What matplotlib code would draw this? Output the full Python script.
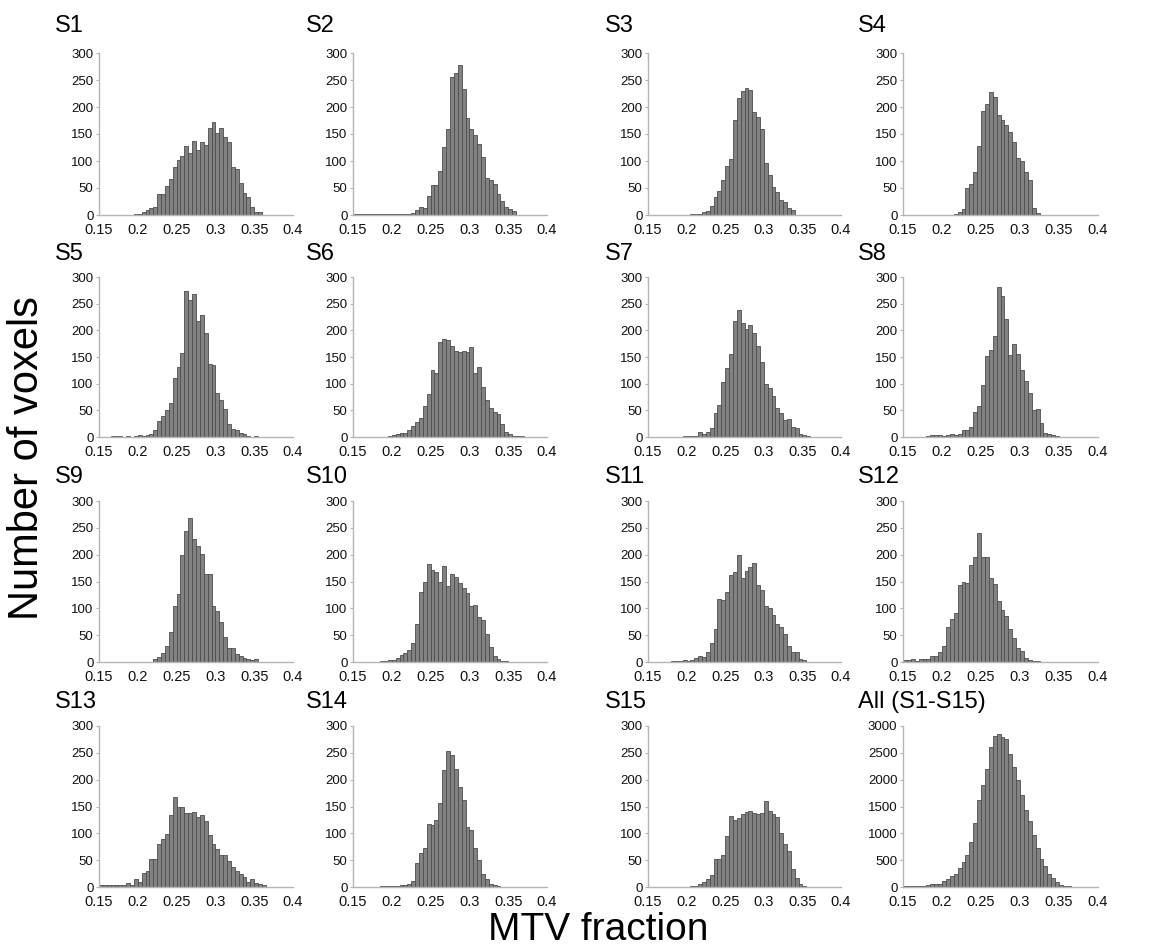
import numpy as np
import matplotlib
matplotlib.use("Agg")
from matplotlib import pyplot as plt

plt.rcParams['font.family'] = ['Liberation Sans', 'DejaVu Sans']

# bin left edges: 0.15 ... 0.395, width 0.005
bin_w = 0.005
edges = 0.15 + bin_w * np.arange(50)


def hist(d):
    # d: {bin index: count}
    c = np.zeros(50)
    for k, v in d.items():
        c[k] = v
    return c


# counts per subject
s1 = hist({9: 1, 10: 2, 11: 5, 12: 10, 13: 13, 14: 15, 15: 38, 16: 38, 17: 53, 18: 67,
           19: 88, 20: 101, 21: 110, 22: 127, 23: 115, 24: 137, 25: 120, 26: 135, 27: 129,
           28: 162, 29: 172, 30: 152, 31: 162, 32: 144, 33: 135, 34: 88, 35: 85, 36: 59,
           37: 40, 38: 33, 39: 15, 40: 6, 41: 5})
s2 = hist({0: 2, 1: 2, 2: 2, 3: 2, 4: 2, 5: 1, 6: 1, 7: 1, 8: 1, 9: 1, 10: 1, 11: 1, 12: 1,
           13: 2, 14: 1, 15: 3, 16: 10, 17: 15, 18: 13, 19: 35, 20: 55, 21: 56, 22: 82,
           23: 125, 24: 160, 25: 256, 26: 263, 27: 277, 28: 234, 29: 180, 30: 160, 31: 148,
           32: 131, 33: 107, 34: 68, 35: 65, 36: 58, 37: 38, 38: 25, 39: 15, 40: 12, 41: 7})
s3 = hist({11: 1, 12: 1, 13: 2, 14: 5, 15: 8, 16: 16, 17: 34, 18: 44, 19: 65, 20: 90,
           21: 103, 22: 175, 23: 216, 24: 230, 25: 236, 26: 231, 27: 190, 28: 182, 29: 160,
           30: 97, 31: 74, 32: 52, 33: 43, 34: 27, 35: 24, 36: 13, 37: 9})
s4 = hist({13: 2, 14: 5, 15: 12, 16: 50, 17: 57, 18: 80, 19: 128, 20: 193, 21: 205,
           22: 227, 23: 218, 24: 186, 25: 176, 26: 166, 27: 153, 28: 135, 29: 106, 30: 100,
           31: 79, 32: 64, 33: 13, 34: 3})
s5 = hist({3: 2, 4: 2, 5: 1, 7: 1, 9: 1, 10: 3, 11: 2, 12: 3, 13: 6, 14: 14, 15: 30,
           16: 40, 17: 50, 18: 63, 19: 110, 20: 131, 21: 158, 22: 273, 23: 256, 24: 268,
           25: 218, 26: 228, 27: 195, 28: 137, 29: 135, 30: 83, 31: 70, 32: 52, 33: 25,
           34: 15, 35: 13, 36: 7, 37: 5, 38: 2, 40: 2})
s6 = hist({9: 2, 10: 3, 11: 5, 12: 8, 13: 7, 14: 14, 15: 20, 16: 28, 17: 36, 18: 59,
           19: 80, 20: 125, 21: 120, 22: 178, 23: 184, 24: 182, 25: 170, 26: 161, 27: 160,
           28: 161, 29: 160, 30: 168, 31: 120, 32: 131, 33: 94, 34: 69, 35: 55, 36: 46,
           37: 44, 38: 25, 39: 9, 40: 6, 41: 2, 42: 1, 43: 2})
s7 = hist({9: 2, 10: 1, 11: 2, 12: 2, 13: 10, 14: 5, 15: 10, 16: 16, 17: 45, 18: 60,
           19: 103, 20: 130, 21: 156, 22: 218, 23: 238, 24: 213, 25: 202, 26: 210, 27: 195,
           28: 170, 29: 140, 30: 100, 31: 91, 32: 77, 33: 55, 34: 45, 35: 32, 36: 34,
           37: 18, 38: 16, 39: 6, 40: 4, 41: 1})
s8 = hist({6: 1, 7: 3, 8: 3, 9: 4, 10: 1, 11: 3, 12: 5, 13: 4, 14: 6, 15: 14, 16: 14,
           17: 19, 18: 47, 19: 58, 20: 98, 21: 152, 22: 164, 23: 190, 24: 282, 25: 265,
           26: 222, 27: 153, 28: 174, 29: 155, 30: 125, 31: 105, 32: 83, 33: 50, 34: 52,
           35: 27, 36: 8, 37: 5, 38: 4, 39: 1})
s9 = hist({14: 5, 15: 9, 16: 17, 17: 30, 18: 56, 19: 105, 20: 127, 21: 200, 22: 245,
           23: 268, 24: 229, 25: 217, 26: 202, 27: 164, 28: 164, 29: 105, 30: 95, 31: 75,
           32: 46, 33: 26, 34: 26, 35: 15, 36: 12, 37: 8, 38: 6, 39: 3, 40: 5})
s10 = hist({7: 1, 8: 2, 9: 4, 10: 3, 11: 8, 12: 13, 13: 17, 14: 22, 15: 36, 16: 71,
            17: 131, 18: 150, 19: 183, 20: 171, 21: 168, 22: 150, 23: 178, 24: 141, 25: 164,
            26: 159, 27: 147, 28: 137, 29: 129, 30: 105, 31: 106, 32: 83, 33: 78, 34: 52,
            35: 28, 36: 11, 37: 5, 38: 2, 39: 1})
s11 = hist({6: 2, 7: 1, 8: 2, 9: 3, 10: 2, 11: 3, 12: 7, 13: 12, 14: 9, 15: 18, 16: 35,
            17: 61, 18: 118, 19: 115, 20: 131, 21: 162, 22: 168, 23: 200, 24: 157, 25: 170,
            26: 177, 27: 184, 28: 143, 29: 135, 30: 104, 31: 100, 32: 88, 33: 70, 34: 65,
            35: 53, 36: 30, 37: 19, 38: 18, 39: 5, 40: 3})
s12 = hist({0: 3, 1: 3, 2: 5, 3: 2, 4: 5, 5: 5, 6: 6, 7: 11, 8: 11, 9: 18, 10: 30,
            11: 65, 12: 80, 13: 92, 14: 143, 15: 149, 16: 148, 17: 181, 18: 196, 19: 240,
            20: 196, 21: 195, 22: 157, 23: 146, 24: 113, 25: 96, 26: 85, 27: 62, 28: 45,
            29: 27, 30: 20, 31: 8, 32: 4, 33: 2, 34: 1})
s13 = hist({0: 4, 1: 4, 2: 3, 3: 3, 4: 3, 5: 3, 6: 4, 7: 7, 8: 4, 9: 15, 10: 10, 11: 27,
            12: 29, 13: 52, 14: 53, 15: 80, 16: 90, 17: 99, 18: 135, 19: 168, 20: 150,
            21: 150, 22: 137, 23: 138, 24: 140, 25: 130, 26: 135, 27: 123, 28: 96, 29: 80,
            30: 70, 31: 60, 32: 59, 33: 48, 34: 37, 35: 30, 36: 24, 37: 18, 38: 10, 39: 15,
            40: 8, 41: 5, 42: 3})
s14 = hist({7: 1, 8: 2, 9: 1, 10: 1, 11: 2, 12: 3, 13: 4, 14: 5, 15: 12, 16: 45, 17: 63,
            18: 72, 19: 118, 20: 116, 21: 124, 22: 157, 23: 218, 24: 253, 25: 246, 26: 220,
            27: 186, 28: 162, 29: 112, 30: 107, 31: 72, 32: 50, 33: 25, 34: 15, 35: 5,
            36: 3, 37: 1})
s15 = hist({11: 1, 12: 2, 13: 5, 14: 10, 15: 15, 16: 22, 17: 52, 18: 52, 19: 60, 20: 95,
            21: 132, 22: 124, 23: 128, 24: 136, 25: 139, 26: 142, 27: 137, 28: 136, 29: 137,
            30: 160, 31: 141, 32: 136, 33: 130, 34: 100, 35: 81, 36: 67, 37: 33, 38: 16,
            39: 5, 40: 2})
s_all = hist({0: 10, 1: 10, 2: 12, 3: 15, 4: 20, 5: 25, 6: 35, 7: 50, 8: 55, 9: 60,
              10: 120, 11: 150, 12: 200, 13: 250, 14: 350, 15: 470, 16: 600, 17: 830,
              18: 1200, 19: 1620, 20: 1900, 21: 2200, 22: 2600, 23: 2820, 24: 2850,
              25: 2800, 26: 2750, 27: 2480, 28: 2230, 29: 2000, 30: 1720, 31: 1430,
              32: 1230, 33: 970, 34: 720, 35: 530, 36: 400, 37: 240, 38: 160, 39: 100,
              40: 40, 41: 20, 42: 10, 43: 5})

titles = ['S1', 'S2', 'S3', 'S4', 'S5', 'S6', 'S7', 'S8',
          'S9', 'S10', 'S11', 'S12', 'S13', 'S14', 'S15', 'All (S1-S15)']
counts = [s1, s2, s3, s4, s5, s6, s7, s8, s9, s10, s11, s12, s13, s14, s15, s_all]

xticks = [0.15, 0.2, 0.25, 0.3, 0.35, 0.4]
xticklabels = ['0.15', '0.2', '0.25', '0.3', '0.35', '0.4']

W, H = 1152, 946
fig = plt.figure(figsize=(W / 100, H / 100), dpi=100)

# panel boxes in pixels
cols = [(99, 293), (353, 547), (648, 841), (903, 1098)]
rows = [(53, 215), (277, 437), (501, 662), (726, 887)]
title_x = [55, 306, 605, 858]
title_y = [26, 254, 477, 702]

for i, (name, c) in enumerate(zip(titles, counts)):
    r, k = divmod(i, 4)
    x0, x1 = cols[k]
    y0, y1 = rows[r]
    ax = fig.add_axes([x0 / W, 1 - y1 / H, (x1 - x0) / W, (y1 - y0) / H])
    ax.bar(edges, c, width=bin_w, align='edge', color='#828282',
           edgecolor='#4d4d4d', linewidth=0.6)
    ymax = 3000 if i == 15 else 300
    ax.set_xlim(0.15, 0.4)
    ax.set_ylim(0, ymax)
    ax.set_yticks(np.linspace(0, ymax, 7))
    ax.set_yticklabels([str(int(v)) for v in np.linspace(0, ymax, 7)])
    ax.set_xticks(xticks)
    ax.set_xticklabels(xticklabels)
    for s in ['top', 'right']:
        ax.spines[s].set_visible(False)
    for s in ['left', 'bottom']:
        ax.spines[s].set_color('#b5b5b5')
        ax.spines[s].set_linewidth(1.0)
    ax.tick_params(axis='y', length=2, width=0.8, color='#b5b5b5', pad=2,
                   labelsize=9.5, labelcolor='#111111')
    ax.tick_params(axis='x', length=0, pad=6, labelsize=10.5, labelcolor='#111111')
    fig.text(title_x[k] / W, 1 - title_y[r] / H, name, fontsize=17,
             ha='left', va='center')

fig.text(27 / W, 1 - 458 / H, 'Number of voxels', rotation=90, fontsize=30,
         ha='center', va='center')
fig.text(598 / W, 1 - 930 / H, 'MTV fraction', fontsize=28,
         ha='center', va='center')

fig.savefig('out.png', dpi=100)
